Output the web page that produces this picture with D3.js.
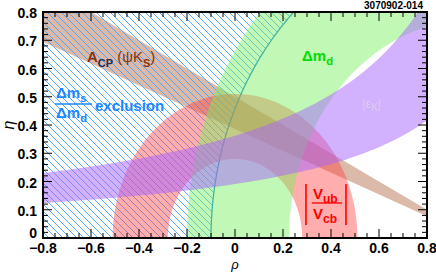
<!DOCTYPE html>
<html>
<head>
<meta charset="utf-8">
<script src="https://cdn.jsdelivr.net/npm/d3@7"></script>
<style>
  body { margin: 0; background: #fff; }
  text { font-family: "Liberation Sans", Arial, sans-serif; font-weight: bold; }
</style>
</head>
<body>
<div id="chart"></div>
<script>
/* rho-eta constraint plot */

// axis ticks
var rhoTicks = [-0.8, -0.6, -0.4, -0.2, 0, 0.2, 0.4, 0.6, 0.8];
var etaTicks = [0, 0.1, 0.2, 0.3, 0.4, 0.5, 0.6, 0.7, 0.8];

// constraints
var dmdCenter = [1, 0];          // Delta m_d annulus centre
var dmdRadii = [0.775, 1.2];     // inner, outer
var dmsRadius = 1.1;             // Delta m_s / Delta m_d exclusion boundary
var vubRadii = [0.28, 0.51];     // |Vub/Vcb| annulus round origin
var acpSlopes = [0.386, 0.5];    // A_CP(psi K_S) wedge through (1,0)
var epsLower = [0.282, 1.477];   // eta = k / (a - rho)
var epsUpper = [0.504, 1.392];

var W = 436, H = 273;
var x = d3.scaleLinear().domain([-0.8, 0.8]).range([43, 427]);
var y = d3.scaleLinear().domain([0, 0.8]).range([238, 12]);

var svg = d3.select('#chart').append('svg')
	.attr('width', W)
	.attr('height', H);

var defs = svg.append('defs');
defs.append('clipPath').attr('id', 'plotClip')
	.append('rect')
	.attr('x', x(-0.8)).attr('y', y(0.8))
	.attr('width', x(0.8) - x(-0.8)).attr('height', y(0) - y(0.8));

defs.append('pattern')
	.attr('id', 'hatch')
	.attr('patternUnits', 'userSpaceOnUse')
	.attr('width', 7).attr('height', 7)
	.append('path')
	.attr('d', 'M-1,-1L8,8M-1,6L1,8M6,-1L8,1')
	.style('stroke', '#4aa3ff')
	.style('stroke-width', 0.9);

var line = d3.line().x(d => x(d[0])).y(d => y(d[1]));

// circle in data space, sampled
function ring(c, r){
	return d3.range(0, 361, 2).map(a => [c[0] + r*Math.cos(a*Math.PI/180), c[1] + r*Math.sin(a*Math.PI/180)]);
}
function annulus(c, radii){
	return line(ring(c, radii[1])) + 'Z' + line(ring(c, radii[0]).reverse()) + 'Z';
}

var g = svg.append('g').attr('clip-path', 'url(#plotClip)');

// A_CP band
var acp = [[1, 0], [-1, acpSlopes[0]*2], [-1, acpSlopes[1]*2]];
g.append('path')
	.attr('d', line(acp) + 'Z')
	.style('fill', 'rgb(190,130,100)')
	.style('fill-opacity', 0.55);

// Delta m_s exclusion (hatched)
var etas = d3.range(-0.1, 0.95, 0.01);
var dmsEdge = etas.map(e => [dmdCenter[0] - Math.sqrt(dmsRadius*dmsRadius - e*e), e]);
g.append('path')
	.attr('d', line(dmsEdge.concat([[-1, 0.95], [-1, -0.1]])) + 'Z')
	.style('fill', 'url(#hatch)');
g.append('path')
	.attr('d', line(dmsEdge))
	.style('fill', 'none')
	.style('stroke', '#1a88d8')
	.style('stroke-width', 1.3);

// |Vub/Vcb|
g.append('path')
	.attr('d', annulus([0, 0], vubRadii))
	.style('fill-rule', 'evenodd')
	.style('fill', 'rgb(255,60,60)')
	.style('fill-opacity', 0.42);

// Delta m_d
g.append('path')
	.attr('d', annulus(dmdCenter, dmdRadii))
	.style('fill-rule', 'evenodd')
	.style('fill', 'rgb(120,240,90)')
	.style('fill-opacity', 0.45);

// epsilon_K
var rhos = d3.range(-0.9, 0.91, 0.02);
var epsBand = rhos.map(r => [r, epsUpper[0]/(epsUpper[1] - r)])
	.concat(rhos.slice().reverse().map(r => [r, epsLower[0]/(epsLower[1] - r)]));
g.append('path')
	.attr('d', line(epsBand) + 'Z')
	.style('fill', 'rgb(165,100,255)')
	.style('fill-opacity', 0.5);

// labels
var acpText = svg.append('text')
	.attr('x', 87).attr('y', 62)
	.style('font-size', '15px')
	.style('fill', '#8c3212');
acpText.append('tspan').text('A');
acpText.append('tspan').text('CP').attr('dy', 5).style('font-size', '11px').style('fill', '#2a2a55');
acpText.append('tspan').text(' (ψK').attr('dy', -5).style('font-weight', 'normal');
acpText.append('tspan').text('S').attr('dy', 5).style('font-size', '11px');
acpText.append('tspan').text(')').attr('dy', -5).style('font-weight', 'normal');

var blue = '#1a88ff';
function massText(px, py, sub, col, size){
	var t = svg.append('text').attr('x', px).attr('y', py)
		.style('font-size', size + 'px').style('fill', col);
	t.append('tspan').text('Δm');
	t.append('tspan').text(sub).attr('dy', 4).style('font-size', (size*0.75) + 'px');
	return t;
}
massText(56, 98, 's', blue, 15);
svg.append('line')
	.attr('x1', 55).attr('x2', 92).attr('y1', 104).attr('y2', 104)
	.style('stroke', blue).style('stroke-width', 1.3);
massText(56, 118, 'd', blue, 15);
svg.append('text').attr('x', 95).attr('y', 111)
	.style('font-size', '15px').style('fill', blue)
	.text('exclusion');

massText(302, 61, 'd', '#00dd00', 15);

// |Vub/Vcb|
var red = '#ff0000';
[306, 346].forEach(bx => svg.append('line')
	.attr('x1', bx).attr('x2', bx).attr('y1', 184).attr('y2', 225)
	.style('stroke', red).style('stroke-width', 1.6));
function vText(py, sub){
	var t = svg.append('text').attr('x', 313).attr('y', py)
		.style('font-size', '15px').style('fill', red);
	t.append('tspan').text('V');
	t.append('tspan').text(sub).attr('dy', 4).style('font-size', '12px');
}
vText(199, 'ub');
svg.append('line')
	.attr('x1', 312).attr('x2', 342).attr('y1', 203).attr('y2', 203)
	.style('stroke', red).style('stroke-width', 1.3);
vText(219, 'cb');

// faint |eps_K|
var epsText = svg.append('text').attr('x', 362).attr('y', 108)
	.style('font-size', '13px').style('fill', '#dccbf2').style('font-weight', 'normal');
epsText.append('tspan').text('|ε');
epsText.append('tspan').text('K').attr('dy', 3).style('font-size', '10px');
epsText.append('tspan').text('|').attr('dy', -3);

svg.append('text').attr('x', 423).attr('y', 9)
	.attr('text-anchor', 'end')
	.style('font-size', '10px')
	.text('3070902-014');

// frame and ticks
var axes = svg.append('g').style('stroke', '#000');
axes.append('rect')
	.attr('x', x(-0.8)).attr('y', y(0.8))
	.attr('width', x(0.8) - x(-0.8)).attr('height', y(0) - y(0.8))
	.style('fill', 'none').style('stroke-width', 2);

d3.range(-0.8, 0.801, 0.05).forEach((v, i) => {
	var len = (i % 4 === 0) ? 9 : 5;
	axes.append('line').attr('x1', x(v)).attr('x2', x(v)).attr('y1', y(0)).attr('y2', y(0) - len);
	axes.append('line').attr('x1', x(v)).attr('x2', x(v)).attr('y1', y(0.8)).attr('y2', y(0.8) + len);
});
d3.range(0, 0.801, 0.02).forEach((v, i) => {
	var len = (i % 5 === 0) ? 9 : 5;
	axes.append('line').attr('x1', x(-0.8)).attr('x2', x(-0.8) + len).attr('y1', y(v)).attr('y2', y(v));
	axes.append('line').attr('x1', x(0.8)).attr('x2', x(0.8) - len).attr('y1', y(v)).attr('y2', y(v));
});

var fmt = v => (v === 0 ? '0' : d3.format('.1f')(v).replace('-', '−'));
svg.selectAll('.xl').data(rhoTicks).enter().append('text')
	.attr('x', d => x(d)).attr('y', 253)
	.attr('text-anchor', 'middle')
	.style('font-size', '14px')
	.text(fmt);
svg.selectAll('.yl').data(etaTicks).enter().append('text')
	.attr('x', 37).attr('y', d => d === 0 ? y(d) : y(d) + 6)
	.attr('text-anchor', 'end')
	.style('font-size', '14px')
	.text(fmt);

svg.append('text').attr('x', 235).attr('y', 269)
	.attr('text-anchor', 'middle')
	.style('font-size', '13px').style('font-weight', 'normal').style('font-style', 'italic')
	.text('ρ');
svg.append('text')
	.attr('transform', 'translate(14,125) rotate(-90)')
	.attr('text-anchor', 'middle')
	.style('font-size', '16px').style('font-weight', 'normal').style('font-style', 'italic')
	.text('η');
</script>
</body>
</html>
